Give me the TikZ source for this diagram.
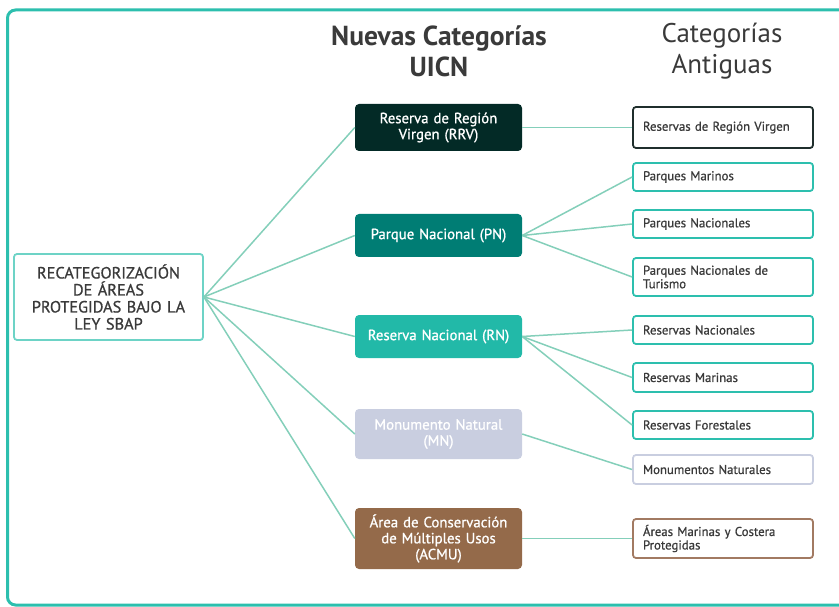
\documentclass[tikz,border=0pt]{standalone}
\usepackage{fontspec}
\setmainfont{PT Sans}
\newfontfamily\semib{PT Sans}[FakeBold=0.9]
\definecolor{frame}{HTML}{2CBFAE}
\definecolor{conn}{HTML}{84CFBA}
\definecolor{rootb}{HTML}{6DD3C6}
\definecolor{rrvc}{HTML}{032A26}
\definecolor{pnc}{HTML}{007D74}
\definecolor{rnc}{HTML}{22B9A8}
\definecolor{mnc}{HTML}{C9CEE0}
\definecolor{acmuc}{HTML}{946A4A}
\definecolor{txt}{HTML}{3A3A3A}
\definecolor{oldteal}{HTML}{2DBFAE}
\definecolor{olddark}{HTML}{1F2E2C}
\definecolor{oldbrown}{HTML}{A27A62}
\begin{document}
\begin{tikzpicture}[x=1pt,y=-1pt,
  newbox/.style={rounded corners=4pt, minimum width=167pt, text width=160pt, align=center,
    inner sep=0pt, text=white, font=\semib\fontsize{14.8}{16}\selectfont},
  oldbox/.style={draw, line width=1.8pt, rounded corners=3pt, minimum width=180pt, text width=160pt,
    inner xsep=10pt, inner ysep=0pt, align=left, text=txt, font=\semib\fontsize{12.8}{13.5}\selectfont},
  conline/.style={draw=conn, line width=1.5pt},
  head/.style={text=txt, align=center}
]
\useasboundingbox (0,0) rectangle (839,607);
\draw[frame, line width=3pt, rounded corners=8pt] (7.5,10) rectangle (860,605);

\node[head, font=\bfseries\fontsize{27.5}{31}\selectfont] (h1) at (439,51) {Nuevas Categorías\\UICN};
\node[head, font=\fontsize{27}{31}\selectfont] (h2) at (722,51) {Categorías\\Antiguas};

\node[draw=rootb, line width=1.8pt, rounded corners=3pt, minimum width=189pt, minimum height=86pt,
  text width=185pt, align=center, inner sep=0pt, text=txt, font=\semib\fontsize{16.3}{17}\selectfont]
  (root) at (108.5,297) {RECATEGORIZACIÓN\\DE ÁREAS\\PROTEGIDAS BAJO LA\\LEY SBAP};

\node[newbox, fill=rrvc, minimum height=47pt] (rrv) at (438.5,127.5) {Reserva de Región\\Virgen (RRV)};
\node[newbox, fill=pnc, minimum height=43pt] (pn) at (438.5,235.5) {Parque Nacional (PN)};
\node[newbox, fill=rnc, minimum height=43pt] (rn) at (438.5,336.5) {Reserva Nacional (RN)};
\node[newbox, fill=mnc, minimum height=50pt] (mn) at (438.5,434) {Monumento Natural\\(MN)};
\node[newbox, fill=acmuc, minimum height=61pt] (acmu) at (438.5,538.5) {Área de Conservación\\de Múltiples Usos\\(ACMU)};

\node[oldbox, draw=olddark, minimum height=41pt] (o1) at (723,127.5) {Reservas de Región Virgen};
\node[oldbox, draw=oldteal, minimum height=28pt] (o2) at (723,177) {Parques Marinos};
\node[oldbox, draw=oldteal, minimum height=28pt] (o3) at (723,224) {Parques Nacionales};
\node[oldbox, draw=oldteal, minimum height=38pt] (o4) at (723,277) {Parques Nacionales de\\Turismo};
\node[oldbox, draw=oldteal, minimum height=28pt] (o5) at (723,330) {Reservas Nacionales};
\node[oldbox, draw=oldteal, minimum height=29pt] (o6) at (723,377.5) {Reservas Marinas};
\node[oldbox, draw=oldteal, minimum height=28pt] (o7) at (723,425) {Reservas Forestales};
\node[oldbox, draw=mnc, minimum height=29pt] (o8) at (723,469.5) {Monumentos Naturales};
\node[oldbox, draw=oldbrown, minimum height=39pt] (o9) at (723,538.5) {Áreas Marinas y Costera\\Protegidas};

\foreach \t in {rrv,pn,rn,mn,acmu} \draw[conline] (root.east) -- (\t.west);
\draw[conline] (rrv.east) -- (o1.west);
\foreach \t in {o2,o3,o4} \draw[conline] (pn.east) -- (\t.west);
\foreach \t in {o5,o6,o7} \draw[conline] (rn.east) -- (\t.west);
\draw[conline] (mn.east) -- (o8.west);
\draw[conline] (acmu.east) -- (o9.west);
\end{tikzpicture}
\end{document}
